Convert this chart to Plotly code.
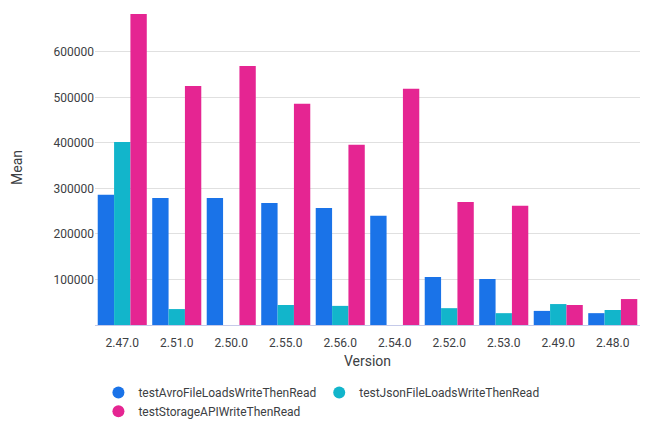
import plotly.graph_objects as go

versions = ["2.47.0", "2.51.0", "2.50.0", "2.55.0", "2.56.0", "2.54.0", "2.52.0", "2.53.0", "2.49.0", "2.48.0"]
avro = [286000, 279000, 279000, 268000, 257000, 240000, 105500, 101000, 31000, 26000]
json_ = [402000, 35000, None, 44000, 42000, None, 37000, 26000, 46000, 33000]
storage = [683000, 525000, 569000, 486000, 396000, 519000, 270000, 262000, 44000, 57000]

names = ["testAvroFileLoadsWriteThenRead", "testJsonFileLoadsWriteThenRead", "testStorageAPIWriteThenRead"]
colors = ["#1a73e8", "#12b5cb", "#e52592"]
series = [avro, json_, storage]
legend_ids = ["legend", "legend2", "legend3"]

fig = go.Figure()
for n, c, s in zip(names, colors, series):
    fig.add_trace(go.Bar(x=versions, y=s, name=n, marker=dict(color=c, line=dict(width=0)),
                         showlegend=False))
for n, c, lg in zip(names, colors, legend_ids):
    fig.add_trace(go.Scatter(x=[None], y=[None], mode="markers", name=n, legend=lg,
                             marker=dict(color=c, size=12, symbol="circle")))

leg_common = dict(orientation="h", xanchor="left", yanchor="top",
                  font=dict(size=12, color="#3c4043"), itemsizing="constant",
                  bgcolor="rgba(0,0,0,0)")

fig.update_layout(
    width=650, height=442,
    margin=dict(l=87, r=18, t=2, b=125),
    paper_bgcolor="white", plot_bgcolor="white",
    font=dict(family="Roboto", size=12, color="#3c4043"),
    barmode="group", bargap=0.1, bargroupgap=0,
    xaxis=dict(title=dict(text="Version", standoff=6), showgrid=False, showline=True,
               linecolor="#c5cae9", linewidth=1, ticks="", ticklabelstandoff=7,
               tickfont=dict(size=12, color="#3c4043")),
    yaxis=dict(title=dict(text="Mean", standoff=27), range=[0, 692000], showgrid=True,
               gridcolor="#e0e0e0", zeroline=False, tickvals=[100000, 200000, 300000, 400000, 500000, 600000],
               ticktext=["100000", "200000", "300000", "400000", "500000", "600000"],
               tickfont=dict(size=12, color="#3c4043")),
    legend=dict(x=0.0063, y=-0.168, **leg_common),
    legend2=dict(x=0.4114, y=-0.168, **leg_common),
    legend3=dict(x=0.0063, y=-0.228, **leg_common),
)
fig.write_html("out.html")
